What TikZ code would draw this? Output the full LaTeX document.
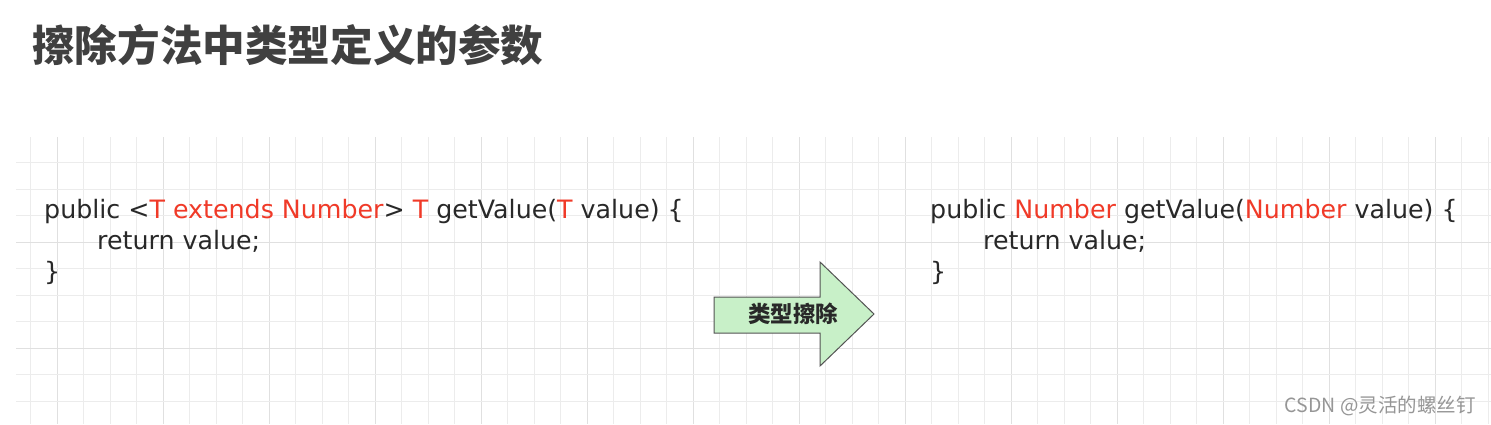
\documentclass[tikz,border=0pt]{standalone}
\usepackage{fontspec}
\setmainfont{DejaVu Sans}
\newfontfamily\cjk{Noto Sans CJK SC}
\usepackage{xcolor}
\usetikzlibrary{positioning, calc}
\definecolor{codered}{RGB}{240,58,40}
\definecolor{codeink}{RGB}{40,40,40}
\definecolor{titleink}{RGB}{64,64,64}
\definecolor{erasefill}{RGB}{200,240,200}
\definecolor{gridthin}{RGB}{236,236,236}
\definecolor{gridthick}{RGB}{224,224,224}
\definecolor{markgray}{RGB}{150,150,150}

\begin{document}
\begin{tikzpicture}[
  x=1pt, y=-1pt,
  code/.style={anchor=base west, inner sep=0pt, text=codeink, font=\fontsize{25.3}{28}\selectfont},
  gl/.style={draw=gridthin, line width=0.8pt},
  glb/.style={draw=gridthick, line width=1pt}
  ]
  \useasboundingbox (0,0) rectangle (1491,424);
  \fill[white] (0,0) rectangle (1491,424);
  % squared paper
  \foreach \k in {0,...,55} {
    \pgfmathtruncatemacro{\m}{mod(\k,4)}
    \ifnum\m=1 \draw[glb] (30.5+26.5*\k,137) -- (30.5+26.5*\k,424);
    \else \draw[gl] (30.5+26.5*\k,137) -- (30.5+26.5*\k,424); \fi
  }
  \foreach \k in {0,...,9} {
    \pgfmathtruncatemacro{\m}{mod(\k,4)}
    \ifnum\m=3 \draw[glb] (16,162.5+26.5*\k) -- (1491,162.5+26.5*\k);
    \else \draw[gl] (16,162.5+26.5*\k) -- (1491,162.5+26.5*\k); \fi
  }
  % title
  \node[anchor=west, inner sep=0pt, text=titleink, font=\cjk\bfseries\fontsize{42.6}{45}\selectfont]
    (title) at (32,45) {擦除方法中类型定义的参数};
  % generic method
  \node[code] (lhead) at (44,218) {public <\textcolor{codered}{T extends Number}> \textcolor{codered}{T} getValue(\textcolor{codered}{T} value) \{};
  \node[code] (lret) at (97,249) {return value;};
  \node[code] (lend) at (44,280) {\}};
  % erased method
  \node[code] (rhead) at (930,218) {public \textcolor{codered}{Number} getValue(\textcolor{codered}{Number} value) \{};
  \node[code] (rret) at (983,249) {return value;};
  \node[code] (rend) at (930,280) {\}};
  % erasure arrow
  \coordinate (tail) at (714,315);
  \coordinate (tip) at (874,314);
  \draw[fill=erasefill, draw=codeink!80, line width=1pt, line join=miter]
    (714,297) -- (820,297) -- (820,262) -- (tip) -- (820,366) -- (820,333) -- (714,333) -- cycle;
  \node[inner sep=0pt, text=codeink, font=\cjk\bfseries\fontsize{22.5}{25}\selectfont]
    (erase) at (793,314) {类型擦除};
  % watermark
  \node[anchor=base east, inner sep=0pt, text=markgray, font=\cjk\fontsize{19.5}{22}\selectfont]
    (mark) at (1476,412) {CSDN @灵活的螺丝钉};
\end{tikzpicture}
\end{document}
